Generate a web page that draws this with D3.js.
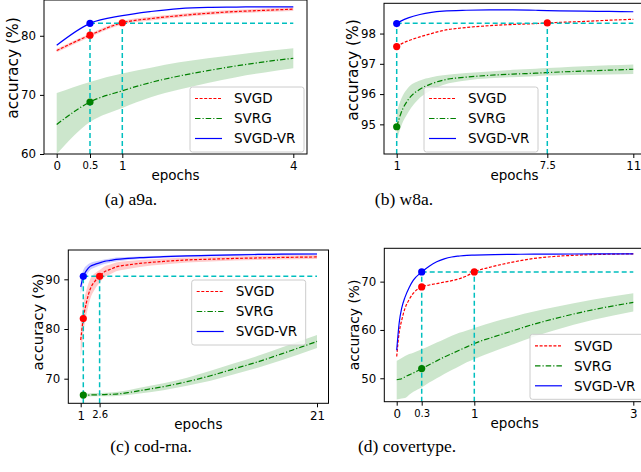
<!DOCTYPE html>
<html>
<head>
<meta charset="UTF-8">
<script src="https://d3js.org/d3.v7.min.js"></script>
<style>
  body { margin: 0; background: #fff; }
  svg text { font-family: "DejaVu Sans", sans-serif; fill: #000; }
  .caption { font-family: "Liberation Serif", serif; font-size: 17.5px; }
  .tick line { stroke: #000; }
  .legend-box { fill: #fff; fill-opacity: 0.8; stroke: #ccc; }
</style>
<title>accuracy vs epochs</title>
</head>
<body>
<svg id="fig" width="641" height="472"></svg>
<script>
// ---- (a) a9a ----
const a9aEpochs = [0, 0.5, 1, 1.5, 2, 2.5, 3, 3.5, 4];
const a9aSvgd   = [77.5, 80.1, 82.2, 82.9, 83.4, 83.8, 84.1, 84.3, 84.5];
const a9aSvgdLo = [77.2, 79.8, 81.9, 82.6, 83.1, 83.5, 83.8, 84.0, 84.2];
const a9aSvgdHi = [77.8, 80.4, 82.5, 83.2, 83.7, 84.1, 84.4, 84.6, 84.8];
const a9aSvrg   = [65.0, 68.8, 70.7, 72.1, 73.2, 74.1, 74.9, 75.6, 76.2];
const a9aSvrgLo = [60.0, 65.4, 67.8, 69.6, 70.9, 72.0, 73.0, 73.8, 74.5];
const a9aSvrgHi = [70.3, 72.2, 73.6, 74.6, 75.5, 76.2, 76.8, 77.4, 77.9];
const a9aVr     = [78.4, 82.1, 83.4, 84.1, 84.6, 84.8, 84.85, 84.9, 84.9];
const a9aYTicks = [60, 70, 80];
const a9aXTicks = [0, 1, 4];
const a9aXMinor = [0.5];
const a9aDotX = [0.5, 0.5, 1, 0.5];
const a9aDotY = [82.1, 80.1, 82.2, 68.8];
const a9aDotSeries = ["SVGD-VR", "SVGD", "SVGD", "SVRG"];
const a9aGuideX = [0.5, 1];
const a9aGuideLevel = 82.1;

// ---- (b) w8a ----
const w8aEpochs = [1, 1.2, 1.5, 2, 2.5, 3, 4, 5, 6, 7, 7.5, 8, 9, 10, 11];
const w8aSvgd   = [97.57, 97.66, 97.76, 97.89, 98.0, 98.1, 98.2, 98.26, 98.3, 98.33, 98.35, 98.37, 98.4, 98.44, 98.47];
const w8aSvrg   = [94.92, 95.4, 95.82, 96.16, 96.34, 96.46, 96.56, 96.62, 96.66, 96.69, 96.71, 96.73, 96.76, 96.79, 96.82];
const w8aSvrgLo = [94.45, 94.95, 95.4, 95.88, 96.13, 96.3, 96.45, 96.52, 96.56, 96.59, 96.61, 96.62, 96.64, 96.65, 96.66];
const w8aSvrgHi = [95.4, 95.85, 96.22, 96.45, 96.56, 96.62, 96.7, 96.75, 96.8, 96.84, 96.86, 96.88, 96.92, 96.95, 96.98];
const w8aVr     = [98.33, 98.42, 98.52, 98.63, 98.7, 98.74, 98.77, 98.78, 98.78, 98.77, 98.76, 98.75, 98.74, 98.73, 98.72];
const w8aYTicks = [95, 96, 97, 98];
const w8aXTicks = [1, 11];
const w8aXMinor = [7.5];
const w8aDotX = [1, 1, 7.5, 1];
const w8aDotY = [98.33, 97.57, 98.35, 94.92];
const w8aDotSeries = ["SVGD-VR", "SVGD", "SVGD", "SVRG"];
const w8aGuideX = [1, 7.5];
const w8aGuideLevel = 98.34;

// ---- (c) cod-rna ----
const codEpochs = [1, 1.22, 1.5, 1.8, 2.2, 2.6, 3, 3.5, 4, 5, 6, 8, 10, 12, 14, 16, 18, 21];
const codSvgd   = [77.8, 82.1, 85.5, 88.0, 89.6, 90.6, 91.5, 92.0, 92.5, 92.9, 93.2, 93.6, 93.9, 94.05, 94.2, 94.3, 94.4, 94.5];
const codSvgdLo = [74.0, 79.0, 83.0, 86.0, 88.0, 89.3, 90.4, 91.0, 91.6, 92.1, 92.5, 93.0, 93.4, 93.6, 93.8, 93.9, 94.0, 94.1];
const codSvgdHi = [81.0, 85.0, 88.0, 90.0, 91.2, 91.9, 92.6, 93.0, 93.4, 93.7, 93.9, 94.2, 94.4, 94.5, 94.6, 94.7, 94.8, 94.9];
const codSvrg   = [66.7, 66.7, 66.7, 66.72, 66.75, 66.78, 66.8, 66.85, 66.9, 67.2, 67.6, 68.4, 69.4, 70.6, 72.0, 73.4, 75.0, 77.5];
const codSvrgLo = [66.4, 66.4, 66.4, 66.42, 66.45, 66.45, 66.45, 66.45, 66.5, 66.7, 67.0, 67.7, 68.6, 69.6, 70.9, 72.2, 73.7, 76.2];
const codSvrgHi = [67.0, 67.0, 67.0, 67.05, 67.1, 67.1, 67.15, 67.2, 67.3, 67.7, 68.2, 69.1, 70.2, 71.6, 73.1, 74.6, 76.3, 78.8];
const codVr     = [88.5, 90.6, 91.8, 92.6, 93.0, 93.3, 93.6, 93.8, 94.0, 94.2, 94.35, 94.55, 94.7, 94.8, 94.9, 95.0, 95.05, 95.1];
const codVrLo   = [87.0, 89.3, 90.8, 91.9, 92.4, 92.8, 93.1, 93.4, 93.6, 93.9, 94.1, 94.35, 94.5, 94.6, 94.7, 94.8, 94.85, 94.9];
const codVrHi   = [90.0, 91.9, 92.8, 93.3, 93.6, 93.8, 94.0, 94.2, 94.4, 94.5, 94.6, 94.75, 94.9, 95.0, 95.1, 95.2, 95.25, 95.3];
const codYTicks = [70, 80, 90];
const codXTicks = [1, 21];
const codXMinor = [2.6];
const codDotX = [1.22, 1.22, 2.6, 1.22];
const codDotY = [90.6, 82.1, 90.6, 66.7];
const codDotSeries = ["SVGD-VR", "SVGD", "SVGD", "SVRG"];
const codGuideX = [1.22, 2.6];
const codGuideLevel = 90.6;

// ---- (d) covertype ----
const covEpochs = [0, 0.03, 0.06, 0.1, 0.15, 0.2, 0.3, 0.4, 0.5, 0.6, 0.7, 0.8, 0.9, 1, 1.25, 1.5, 1.75, 2, 2.5, 3];
const covSvgd   = [54.5, 59.5, 62.0, 64.5, 66.3, 67.6, 68.9, 69.3, 69.6, 69.9, 70.2, 70.6, 71.2, 72.0, 73.2, 74.1, 74.8, 75.2, 75.6, 75.75];
const covSvrg   = [49.7, 49.8, 49.9, 50.3, 50.7, 51.1, 52.0, 52.8, 53.6, 54.4, 55.1, 55.8, 56.5, 57.2, 58.6, 59.9, 61.2, 62.3, 64.2, 65.7];
const covSvrgLo = [45.6, 45.7, 45.8, 45.9, 46.6, 47.2, 48.1, 49.1, 50.0, 50.9, 51.7, 52.5, 53.3, 54.0, 55.6, 57.1, 58.6, 59.9, 62.1, 63.8];
const covSvrgHi = [53.6, 53.9, 54.2, 54.6, 55.0, 55.3, 56.0, 56.7, 57.4, 58.1, 58.8, 59.4, 59.9, 60.4, 61.7, 62.8, 63.8, 64.7, 66.3, 67.6];
const covVr     = [55.8, 61.5, 64.5, 66.8, 68.8, 70.3, 72.0, 73.2, 74.1, 74.7, 75.1, 75.3, 75.45, 75.5, 75.6, 75.65, 75.7, 75.7, 75.75, 75.75];
const covYTicks = [50, 60, 70];
const covXTicks = [0, 1, 3];
const covXMinor = [0.3];
const covDotX = [0.3, 0.3, 1, 0.3];
const covDotY = [72.0, 68.9, 72.0, 52.0];
const covDotSeries = ["SVGD-VR", "SVGD", "SVGD", "SVRG"];
const covGuideX = [0.3, 1];
const covGuideLevel = 72.0;

const seriesNames = ["SVGD", "SVRG", "SVGD-VR"];

// styles per series
const style = {
  "SVGD":    { color: "#ff0000", dash: "3,1.6" },
  "SVRG":    { color: "#008000", dash: "5.5,2,1.2,2" },
  "SVGD-VR": { color: "#0000ff", dash: null }
};

// layout of each subplot
const panels = [
  { caption: "(a) a9a.", capX: 131, capY: 205,
    box: { x0: 44, x1: 307, y0: 0, y1: 154 },
    xDomain: [0, 0.5, 1, 4], xRange: [56.7, 90, 122.3, 293.3], yDomain: [60, 86.05],
    yLabelX: 13, yLabelY: 68, yLabelSize: 15.5,
    legend: { x: 190, y: 87 },
    epochs: a9aEpochs,
    series: { "SVGD": a9aSvgd, "SVRG": a9aSvrg, "SVGD-VR": a9aVr },
    bands: [["SVGD", a9aSvgdLo, a9aSvgdHi], ["SVRG", a9aSvrgLo, a9aSvrgHi]],
    yTicks: a9aYTicks, xTicks: a9aXTicks, xMinor: a9aXMinor,
    dotX: a9aDotX, dotY: a9aDotY, dotSeries: a9aDotSeries, guideX: a9aGuideX, guideLevel: a9aGuideLevel },
  { caption: "(b) w8a.", capX: 404, capY: 205,
    box: { x0: 384, x1: 645, y0: 3.3, y1: 154 },
    xDomain: [1, 7.5, 11], xRange: [396.7, 547.3, 633.3], yDomain: [94.02, 99.0],
    yLabelX: 353, yLabelY: 70, yLabelSize: 15.5,
    legend: { x: 424, y: 87 },
    epochs: w8aEpochs,
    series: { "SVGD": w8aSvgd, "SVRG": w8aSvrg, "SVGD-VR": w8aVr },
    bands: [["SVRG", w8aSvrgLo, w8aSvrgHi]],
    yTicks: w8aYTicks, xTicks: w8aXTicks, xMinor: w8aXMinor,
    dotX: w8aDotX, dotY: w8aDotY, dotSeries: w8aDotSeries, guideX: w8aGuideX, guideLevel: w8aGuideLevel },
  { caption: "(c) cod-rna.", capX: 151, capY: 452,
    box: { x0: 68.3, x1: 328.5, y0: 250, y1: 403.3 },
    xDomain: [1, 21], xRange: [80.7, 317], yDomain: [65.05, 95.9],
    yLabelX: 38, yLabelY: 322, yLabelSize: 14.8,
    legend: { x: 191.7, y: 280 },
    epochs: codEpochs,
    series: { "SVGD": codSvgd, "SVRG": codSvrg, "SVGD-VR": codVr },
    bands: [["SVGD", codSvgdLo, codSvgdHi], ["SVRG", codSvrgLo, codSvrgHi], ["SVGD-VR", codVrLo, codVrHi]],
    yTicks: codYTicks, xTicks: codXTicks, xMinor: codXMinor,
    dotX: codDotX, dotY: codDotY, dotSeries: codDotSeries, guideX: codGuideX, guideLevel: codGuideLevel },
  { caption: "(d) covertype.", capX: 407, capY: 452,
    box: { x0: 384.3, x1: 645, y0: 248.3, y1: 401.7 },
    xDomain: [0, 0.3, 1, 3], xRange: [396.7, 421.7, 474.3, 633.3], yDomain: [45.15, 76.9],
    yLabelX: 354, yLabelY: 325, yLabelSize: 13.8,
    legend: { x: 530, y: 334.3 },
    epochs: covEpochs,
    series: { "SVGD": covSvgd, "SVRG": covSvrg, "SVGD-VR": covVr },
    bands: [["SVRG", covSvrgLo, covSvrgHi]],
    yTicks: covYTicks, xTicks: covXTicks, xMinor: covXMinor,
    dotX: covDotX, dotY: covDotY, dotSeries: covDotSeries, guideX: covGuideX, guideLevel: covGuideLevel }
];

const svg = d3.select("svg#fig");

panels.forEach((p, pi) => {
  const b = p.box;
  const x = d3.scaleLinear().domain(p.xDomain).range(p.xRange);
  const y = d3.scaleLinear().domain(p.yDomain).range([b.y1, b.y0]);

  const clipId = "clip" + pi;
  svg.append("clipPath").attr("id", clipId)
     .append("rect").attr("x", b.x0).attr("y", b.y0)
     .attr("width", b.x1 - b.x0).attr("height", b.y1 - b.y0);

  const plot = svg.append("g").attr("clip-path", "url(#" + clipId + ")");

  // shaded bands
  p.bands.forEach(([name, lo, hi]) => {
    const area = d3.area()
      .x((d, i) => x(p.epochs[i]))
      .y0((d, i) => y(lo[i]))
      .y1((d, i) => y(hi[i]))
      .curve(d3.curveMonotoneX);
    plot.append("path").datum(lo)
      .attr("d", area)
      .attr("fill", style[name].color)
      .attr("fill-opacity", 0.2)
      .attr("stroke", "none");
  });

  // mean curves
  seriesNames.forEach(name => {
    const line = d3.line()
      .x((d, i) => x(p.epochs[i]))
      .y(d => y(d))
      .curve(d3.curveMonotoneX);
    plot.append("path").datum(p.series[name])
      .attr("d", line)
      .attr("fill", "none")
      .attr("stroke", style[name].color)
      .attr("stroke-width", 1.2)
      .attr("stroke-dasharray", style[name].dash);
  });

  // cyan guide lines
  const lastEpoch = p.epochs[p.epochs.length - 1];
  p.guideX.forEach(gx => {
    plot.append("line")
      .attr("x1", x(gx)).attr("x2", x(gx))
      .attr("y1", b.y1).attr("y2", y(p.guideLevel))
      .attr("stroke", "#00bfbf").attr("stroke-width", 1.5)
      .attr("stroke-dasharray", "5,3");
  });
  plot.append("line")
    .attr("x1", x(p.guideX[0])).attr("x2", x(lastEpoch))
    .attr("y1", y(p.guideLevel)).attr("y2", y(p.guideLevel))
    .attr("stroke", "#00bfbf").attr("stroke-width", 1.5)
    .attr("stroke-dasharray", "5,3");

  // markers
  p.dotX.forEach((dx, i) => {
    plot.append("circle")
      .attr("cx", x(dx)).attr("cy", y(p.dotY[i]))
      .attr("r", 3.6)
      .attr("fill", style[p.dotSeries[i]].color);
  });

  // axes
  const leftAxis = d3.axisLeft(y).tickValues(p.yTicks).tickSize(4).tickPadding(4).tickFormat(d3.format("d"));
  const gy = svg.append("g").attr("transform", "translate(" + b.x0 + ",0)").call(leftAxis);
  gy.select(".domain").remove();
  gy.selectAll("text").style("font-size", "11.8px").attr("font-family", null);

  const allX = p.xTicks.concat(p.xMinor);
  const bottomAxis = d3.axisBottom(x).tickValues(allX).tickSize(4).tickPadding(4).tickFormat(d => String(d));
  const gx = svg.append("g").attr("transform", "translate(0," + b.y1 + ")").call(bottomAxis);
  gx.select(".domain").remove();
  gx.selectAll("text")
    .attr("font-family", null)
    .style("font-size", d => p.xMinor.includes(d) ? "10px" : "11.8px");

  // frame
  svg.append("rect")
    .attr("x", b.x0).attr("y", b.y0)
    .attr("width", b.x1 - b.x0).attr("height", b.y1 - b.y0)
    .attr("fill", "none").attr("stroke", "#000").attr("stroke-width", 1);

  // axis labels
  svg.append("text")
    .attr("x", (b.x0 + b.x1) / 2).attr("y", b.y1 + 26)
    .attr("text-anchor", "middle")
    .style("font-size", "13.5px")
    .text("epochs");
  svg.append("text")
    .attr("transform", "translate(" + p.yLabelX + "," + p.yLabelY + ") rotate(-90)")
    .attr("text-anchor", "middle").attr("dy", "0.35em")
    .style("font-size", p.yLabelSize + "px")
    .text("accuracy (%)");

  // legend
  const lg = svg.append("g").attr("transform", "translate(" + p.legend.x + "," + p.legend.y + ")");
  lg.append("rect").attr("class", "legend-box")
    .attr("width", 114).attr("height", 65).attr("rx", 2.5);
  seriesNames.forEach((name, i) => {
    const ry = 11.5 + i * 20;
    lg.append("line")
      .attr("x1", 5).attr("x2", 32).attr("y1", ry).attr("y2", ry)
      .attr("stroke", style[name].color).attr("stroke-width", 1.2)
      .attr("stroke-dasharray", style[name].dash);
    lg.append("text")
      .attr("x", 44).attr("y", ry).attr("dy", "0.36em")
      .style("font-size", "13.5px")
      .text(name);
  });

  // caption
  svg.append("text").attr("class", "caption")
    .attr("x", p.capX).attr("y", p.capY)
    .attr("text-anchor", "middle")
    .text(p.caption);
});
</script>
</body>
</html>
